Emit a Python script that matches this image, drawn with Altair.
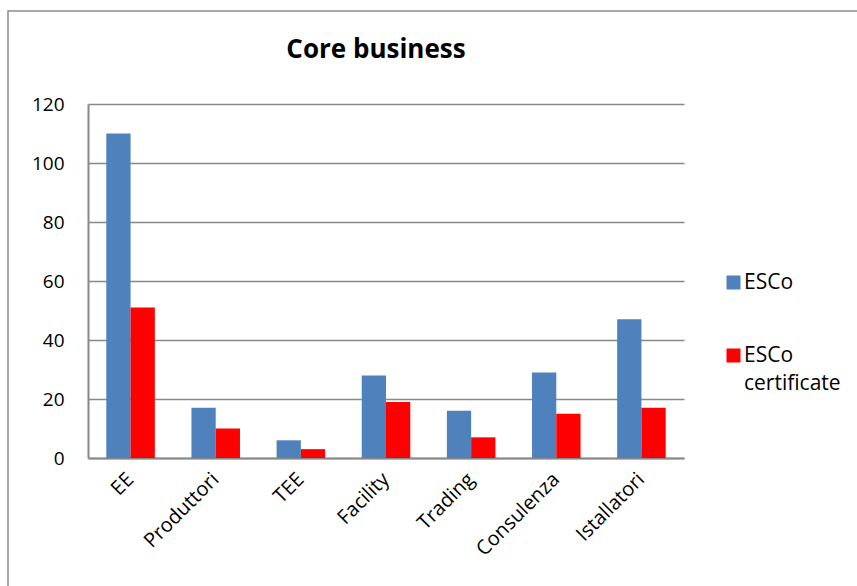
import altair as alt
import pandas as pd

categories = ["EE", "Produttori", "TEE", "Facility", "Trading", "Consulenza", "Istallatori"]
series_names = ["ESCo", "ESCo certificate"]
esco = [110, 17, 6, 28, 16, 29, 47]
esco_cert = [51, 10, 3, 19, 7, 15, 17]
y_ticks = [0, 20, 40, 60, 80, 100, 120]
colors = ["#4F81BD", "#FF0000"]
chart_title = "Core business"

rows = []
for c, a, b in zip(categories, esco, esco_cert):
    rows.append({"category": c, "series": series_names[0], "value": a})
    rows.append({"category": c, "series": series_names[1], "value": b})
df = pd.DataFrame(rows)

FONT = "Open Sans"
GRAY = "#888888"
W, H = 596, 354

bars = alt.Chart(df).mark_bar().encode(
    x=alt.X(
        "category:N",
        sort=categories,
        scale=alt.Scale(paddingInner=0.43, paddingOuter=0.215),
        axis=alt.Axis(
            title=None, labelAngle=-45, labelAlign="right", labelBaseline="middle",
            labelPadding=18, ticks=False, grid=False, domainColor=GRAY, domainWidth=2,
            labelFontSize=20, labelFont=FONT, labelColor="#000000",
        ),
    ),
    xOffset=alt.XOffset("series:N", sort=series_names, scale=alt.Scale(paddingInner=0, paddingOuter=0)),
    y=alt.Y(
        "value:Q",
        scale=alt.Scale(domain=[0, 120], nice=False),
        axis=alt.Axis(
            title=None, values=y_ticks, ticks=False, labelPadding=24, grid=True,
            gridColor=GRAY, gridWidth=1.6, domainColor=GRAY, domainWidth=2,
            labelFontSize=19, labelFont=FONT, labelColor="#000000",
        ),
    ),
    color=alt.Color(
        "series:N",
        sort=series_names,
        scale=alt.Scale(domain=series_names, range=colors),
        legend=alt.Legend(
            title=None, orient="none", legendX=635, legendY=168,
            symbolType="square", symbolSize=196, symbolStrokeWidth=0, symbolOpacity=1,
            labelFontSize=21, labelFont=FONT, labelColor="#000000", labelLimit=300,
            rowPadding=51, labelOffset=0,
            labelExpr="datum.label == 'ESCo certificate' ? ['ESCo', 'certificate'] : datum.label",
        ),
    ),
)

single = pd.DataFrame({"title": [chart_title]})
frame = alt.Chart(single).mark_rect(
    fill="transparent", stroke="#8c8c8c", strokeWidth=1.5
).encode(
    x=alt.value(-80), x2=alt.value(900), y=alt.value(-93), y2=alt.value(600)
)
title_text = alt.Chart(single).mark_text(
    font=FONT, fontSize=26, fontWeight="bold", color="#000000",
    align="center", baseline="alphabetic",
).encode(text="title:N", x=alt.value(288), y=alt.value(-46))

chart = alt.layer(frame, title_text, bars).properties(
    width=W,
    height=H,
    autosize=alt.AutoSizeParams(type="none"),
    padding={"left": 88, "top": 104, "right": 857 - 88 - W, "bottom": 586 - 104 - H},
    background="#ffffff",
    view=alt.ViewBackground(stroke="transparent", strokeWidth=0),
).configure(
    view=alt.ViewConfig(stroke="transparent", strokeWidth=0),
    style={
        "cell": {"stroke": "transparent", "strokeWidth": 0},
        "guide-label": {"lineHeight": 28},
    },
)

chart.save("out.html", embed_options={"renderer": "svg", "actions": False})
